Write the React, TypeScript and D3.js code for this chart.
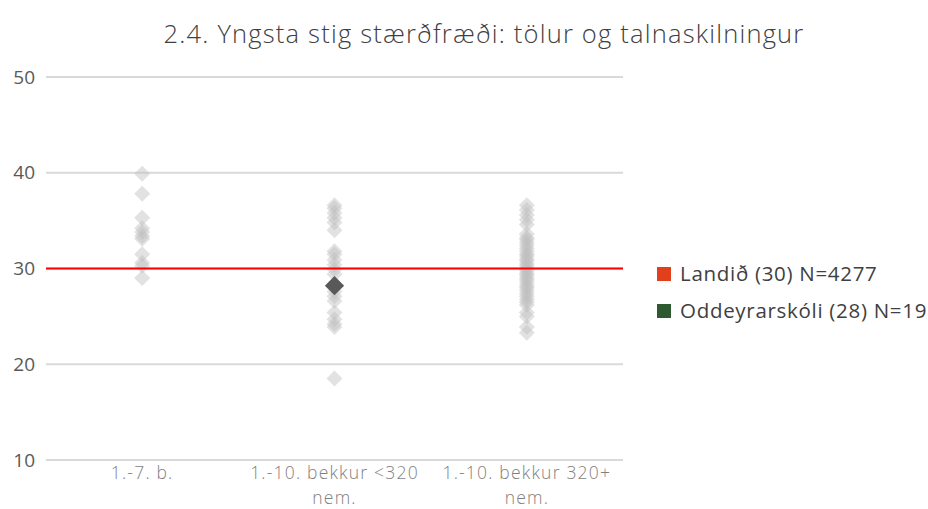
import * as d3 from "d3";
import React from "react";

const title = "2.4. Yngsta stig stærðfræði: tölur og talnaskilningur";
const categories = ["1.-7. b.", "1.-10. bekkur <320 nem.", "1.-10. bekkur 320+ nem."];
const categoryLines = [["1.-7. b."], ["1.-10. bekkur <320", "nem."], ["1.-10. bekkur 320+", "nem."]];
const yTicks = [10, 20, 30, 40, 50];

const schoolsSmall = [39.9, 37.8, 35.3, 34.2, 33.8, 33.4, 33.1, 31.5, 30.6, 30.3, 29.0];
const schoolsMid = [36.6, 36.3, 35.8, 35.3, 34.8, 34.0, 31.8, 31.5, 30.9, 30.4, 29.9, 29.4, 27.6, 27.1, 26.6, 25.4, 24.7, 24.2, 23.9, 18.5];
const schoolsLarge = [
  36.6, 36.1, 35.6, 35.1, 34.6, 33.6, 33.2, 33.0, 32.7, 32.4, 32.1, 31.8, 31.5, 31.3, 31.0, 30.8,
  30.5, 30.3, 30.0, 29.8, 29.5, 29.3, 29.0, 28.8, 28.5, 28.2, 28.0, 27.7, 27.4, 27.1, 26.8, 26.5,
  26.2, 25.4, 25.0, 23.9, 23.3,
];
const schoolValues = [schoolsSmall, schoolsMid, schoolsLarge];

const countryValue = 30;
const schoolCategory = 1;
const schoolValue = 28.2;
const legendItems = [
  { label: "Landið (30) N=4277", color: "#e2401c" },
  { label: "Oddeyrarskóli (28) N=19", color: "#2e5a30" },
];

const App = () => {
  const width = 928;
  const height = 509;
  const margin = { left: 46, right: 305, top: 77, bottom: 49 };
  const font = "'Open Sans', sans-serif";

  const x = d3
    .scaleBand()
    .domain(categories)
    .range([margin.left, width - margin.right]);
  const y = d3
    .scaleLinear()
    .domain([10, 50])
    .range([height - margin.bottom, margin.top]);

  const light = d3.symbol().type(d3.symbolSquare).size(128)();
  const dark = d3.symbol().type(d3.symbolSquare).size(185)();

  return (
    <svg width={width} height={height} style={{ display: "block", position: "absolute", left: 0, top: 0 }}>
      <rect width={width} height={height} fill="#fff" />
      <text
        x={484}
        y={43}
        textAnchor="middle"
        fontFamily={font}
        fontWeight={300}
        fontSize={25.5}
        letterSpacing={1.2}
        fill="#404040"
      >
        {title}
      </text>
      {yTicks.map((t) => (
        <g key={t}>
          <line x1={margin.left} x2={width - margin.right} y1={y(t)} y2={y(t)} stroke="#d9d9d9" strokeWidth={1.8} />
          <text x={35} y={y(t)} dy="0.35em" textAnchor="end" fontFamily={font} fontSize={19} fill="#595959">
            {t}
          </text>
        </g>
      ))}
      {categories.map((c, i) =>
        categoryLines[i].map((line, j) => (
          <text
            key={c + j}
            x={(x(c) as number) + x.bandwidth() / 2}
            y={height - margin.bottom + 19 + j * 25}
            textAnchor="middle"
            fontFamily={font}
            fontWeight={300}
            fontSize={17.5}
            letterSpacing={1.2}
            fill="#7f7f7f"
          >
            {line}
          </text>
        ))
      )}
      {categories.map((c, i) =>
        schoolValues[i].map((v, k) => (
          <path
            key={c + k}
            d={light as string}
            transform={`translate(${(x(c) as number) + x.bandwidth() / 2},${y(v)}) rotate(45)`}
            fill="#bfbfbf"
            fillOpacity={0.45}
          />
        ))
      )}
      <line
        x1={margin.left}
        x2={width - margin.right}
        y1={y(countryValue)}
        y2={y(countryValue)}
        stroke="#ff0000"
        strokeWidth={2}
      />
      <path
        d={dark as string}
        transform={`translate(${(x(categories[schoolCategory]) as number) + x.bandwidth() / 2},${y(schoolValue)}) rotate(45)`}
        fill="#595959"
      />
      {legendItems.map((item, i) => (
        <g key={item.label} transform={`translate(657,${274 + i * 37})`}>
          <rect x={0} y={-7} width={14} height={14} fill={item.color} />
          <text x={23} y={0} dy="0.35em" fontFamily={font} fontSize={20.5} letterSpacing={0.7} fill="#404040">
            {item.label}
          </text>
        </g>
      ))}
    </svg>
  );
};

export default App;
